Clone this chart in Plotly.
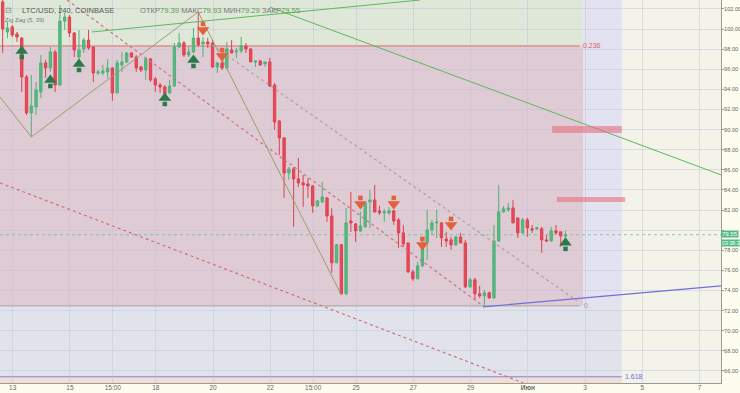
import plotly.graph_objects as go

# ---------------- data ----------------
opens = [102.70, 99.71, 100.21, 99.51, 99.11, 95.24, 91.66, 92.25, 93.74, 96.63,
         96.13, 97.72, 94.44, 100.80, 101.20, 99.61, 97.22, 98.02, 98.91, 98.22,
         95.63, 95.63, 95.73, 96.13, 93.65, 96.43, 96.73, 97.62, 97.22, 96.23,
         95.93, 97.03, 95.04, 94.44, 94.24, 93.65, 94.34, 98.22, 98.62, 97.42,
         97.72, 99.11, 98.52, 98.72, 98.62, 96.23, 96.63, 96.13, 97.92, 97.72,
         97.82, 98.32, 98.02, 96.73, 96.83, 96.53, 96.73, 94.44, 90.86, 89.17,
         85.69, 86.09, 85.10, 84.70, 84.60, 84.40, 82.41, 82.81, 83.21, 81.42,
         76.75, 78.54, 73.67, 80.92, 80.62, 79.93, 80.33, 82.81, 83.01, 81.92,
         81.72, 81.72, 81.92, 81.02, 79.73, 78.73, 75.85, 75.16, 76.45, 78.83,
         80.03, 80.72, 80.72, 79.13, 79.03, 78.54, 79.33, 78.73, 74.36, 75.06,
         73.67, 73.47, 73.77, 73.27, 78.93, 81.82, 82.02, 82.21, 81.22, 79.73,
         81.02, 80.13, 80.13, 80.13, 79.03, 78.93, 79.93, 79.83, 79.39]
highs = [103.10, 100.70, 100.40, 99.71, 99.21, 95.43, 95.43, 94.74, 97.42, 96.93,
         98.22, 97.92, 102.39, 101.60, 101.40, 99.71, 99.91, 99.11, 99.91, 98.22,
         95.93, 96.43, 97.03, 96.23, 96.93, 97.72, 97.72, 97.72, 97.42, 96.33,
         97.22, 97.12, 95.24, 94.64, 94.44, 94.94, 98.62, 99.61, 98.81, 98.22,
         100.11, 101.70, 99.21, 99.11, 98.91, 96.73, 97.72, 98.72, 98.91, 98.12,
         99.21, 98.62, 98.12, 96.83, 96.93, 96.73, 97.12, 94.64, 90.96, 89.27,
         86.29, 86.29, 87.18, 85.49, 85.20, 84.50, 83.01, 84.80, 83.31, 82.21,
         78.64, 78.64, 82.21, 83.81, 80.72, 81.82, 82.81, 84.00, 84.50, 82.41,
         82.12, 82.31, 82.02, 81.22, 80.52, 78.73, 76.05, 76.85, 79.13, 82.02,
         81.02, 82.02, 80.82, 79.83, 79.33, 79.43, 79.73, 79.03, 75.26, 75.26,
         74.46, 74.06, 73.87, 80.52, 84.50, 82.41, 82.71, 83.01, 81.22, 81.22,
         81.22, 80.52, 80.33, 80.33, 79.53, 80.33, 80.52, 79.83, 79.93]
lows = [97.62, 99.11, 99.21, 98.72, 93.74, 91.46, 89.27, 91.46, 93.15, 95.14,
        95.73, 93.74, 94.34, 99.91, 99.21, 97.22, 96.43, 97.62, 97.92, 94.74,
        95.43, 95.43, 95.14, 92.85, 93.65, 95.73, 96.63, 97.12, 95.73, 95.73,
        94.94, 94.74, 93.74, 93.65, 93.45, 93.55, 94.24, 98.12, 97.22, 97.22,
        97.62, 98.22, 97.22, 98.12, 96.13, 95.63, 95.93, 96.03, 97.62, 97.12,
        97.62, 97.62, 96.73, 96.23, 96.33, 96.23, 94.24, 89.97, 87.48, 83.21,
        85.00, 80.33, 84.30, 82.31, 83.21, 81.72, 82.31, 82.71, 80.82, 75.75,
        76.75, 73.57, 73.57, 79.83, 78.83, 79.83, 80.23, 80.23, 81.72, 81.52,
        80.82, 81.52, 80.52, 78.24, 78.34, 75.75, 74.96, 75.16, 76.35, 77.05,
        79.53, 79.23, 78.34, 78.34, 78.04, 78.44, 78.73, 74.26, 74.26, 73.07,
        73.27, 72.37, 73.17, 73.17, 78.83, 81.72, 81.82, 80.72, 79.23, 79.73,
        79.33, 79.73, 80.03, 77.74, 78.83, 78.83, 79.53, 78.34, 79.29]
closes = [100.01, 100.11, 99.41, 99.21, 95.24, 91.66, 92.35, 93.94, 96.63, 96.13,
          97.72, 94.44, 100.80, 101.20, 99.61, 97.92, 97.92, 98.91, 98.12, 95.63,
          95.73, 95.83, 96.13, 93.65, 96.63, 96.73, 97.62, 97.22, 96.13, 95.93,
          97.03, 94.94, 94.44, 94.24, 93.55, 94.34, 98.22, 98.62, 97.42, 97.72,
          99.11, 98.42, 98.72, 98.52, 96.23, 96.63, 96.13, 98.02, 97.62, 97.82,
          98.32, 98.02, 96.73, 96.83, 96.43, 96.73, 94.34, 90.76, 89.17, 85.69,
          86.09, 85.10, 84.70, 84.50, 84.40, 82.41, 82.91, 83.31, 81.42, 76.75,
          78.54, 73.67, 80.72, 80.72, 79.93, 80.42, 82.71, 83.01, 81.82, 81.72,
          81.82, 81.92, 80.92, 79.73, 78.64, 75.85, 75.16, 76.45, 78.73, 80.03,
          80.72, 80.82, 79.23, 78.93, 78.54, 79.33, 78.73, 74.36, 75.06, 73.67,
          73.47, 73.77, 73.27, 78.93, 81.82, 82.12, 82.21, 80.72, 79.73, 81.02,
          80.23, 80.03, 80.23, 79.03, 78.93, 79.93, 79.73, 79.43, 79.55]
candle_x = list(range(len(opens)))

tick_vals = [2.1, 14.1, 23.1, 32.1, 44.1, 56.1, 65.1, 74.1, 86.1, 98.1, 110.1, 122.1, 134.1, 146.1]
tick_text = ["13", "15", "15:00", "18", "20", "22", "15:00", "25", "27", "29", "<b>Июн</b>", "3", "5", "7"]

price_tick_vals = [66, 68, 70, 72, 74, 76, 78, 80, 82, 84, 86, 88, 90, 92, 94, 96, 98, 100, 102]
# 80.00 is hidden behind the current-price tag in the original
price_tick_text = ["66.00", "68.00", "70.00", "72.00", "74.00", "76.00", "78.00", "", "82.00",
                   "84.00", "86.00", "88.00", "90.00", "92.00", "94.00", "96.00", "98.00",
                   "100.00", "102.00"]

up_arrow_x = [4, 10, 16, 34, 40, 118]
up_arrow_y = [97.62, 94.74, 96.33, 92.95, 96.73, 78.54]
down_arrow_x = [42, 46, 75, 82, 94, 88]
down_arrow_y = [100.11, 97.52, 82.81, 82.81, 80.72, 78.73]

zigzag_x = [-0.56, 6, 41, 71]
zigzag_y = [93.25, 89.27, 101.70, 73.57]
green_up_line = ([18.7, 87.5], [99.71, 102.89])
green_down_line = ([56.0, 150.6], [102.19, 85.50])
red_dot_1 = ([13.5, 100.7], [102.89, 72.47])
red_dot_2 = ([-0.56, 109.1], [84.70, 64.82])
gray_dot = ([43.9, 120.4], [98.42, 72.97])
purple_line = ([100.7, 150.6], [72.37, 74.46])

fib_0236 = 98.32
fib_0 = 72.47
fib_1618 = 65.42
last_price = 79.55

X0, X1 = -0.56, 150.6
Y0, Y1 = 64.8, 102.89
fib_end = 121.0
zone_end = 121.7
band_end = 129.8

fig = go.Figure()

shapes = [
    dict(type="rect", x0=X0, x1=zone_end, y0=fib_0236, y1=Y1 + 1, fillcolor="#dfe8d8"),
    dict(type="rect", x0=X0, x1=zone_end, y0=fib_0, y1=fib_0236, fillcolor="#dfcbd3"),
    dict(type="rect", x0=zone_end, x1=band_end, y0=fib_0, y1=Y1 + 1, fillcolor="#e3e2f0"),
    dict(type="rect", x0=X0, x1=band_end, y0=fib_1618, y1=fib_0, fillcolor="#e1e3eb"),
    dict(type="rect", x0=X0, x1=band_end, y0=Y0 - 1, y1=fib_1618, fillcolor="#f0ddd3"),
]
for s in shapes:
    s.update(xref="x", yref="y", layer="below", line=dict(width=0))
for bx0, bx1, by0, by1 in [(115.2, 129.8, 89.67, 90.36), (116.2, 130.5, 82.81, 83.31)]:
    shapes.append(dict(type="rect", xref="x", yref="y", x0=bx0, x1=bx1, y0=by0, y1=by1,
                       fillcolor="rgba(232,110,125,0.6)", line=dict(width=0), layer="above"))
shapes.append(dict(type="line", xref="x", yref="y", x0=X0, x1=fib_end, y0=fib_0236, y1=fib_0236,
                   line=dict(color="#e06a6a", width=1), layer="below"))
shapes.append(dict(type="line", xref="x", yref="y", x0=X0, x1=fib_end, y0=fib_0, y1=fib_0,
                   line=dict(color="#a8a0a0", width=1), layer="below"))
shapes.append(dict(type="line", xref="x", yref="y", x0=X0, x1=band_end, y0=fib_1618, y1=fib_1618,
                   line=dict(color="#8080e8", width=1), layer="below"))
shapes.append(dict(type="line", xref="x", yref="y", x0=X0, x1=X1, y0=last_price, y1=last_price,
                   line=dict(color="rgba(90,190,130,0.7)", width=1, dash="dot"), layer="below"))

fig.update_layout(shapes=shapes)

def add_line(xs, ys, color, width=1, dash=None):
    fig.add_trace(go.Scatter(x=xs, y=ys, mode="lines", hoverinfo="skip", showlegend=False,
                             line=dict(color=color, width=width, dash=dash)))

add_line(*red_dot_2, "#d07080", 1.2, "dot")
add_line(*red_dot_1, "#d07080", 1.2, "dot")
add_line(*gray_dot, "#b0a0a0", 1.2, "dot")
add_line(zigzag_x, zigzag_y, "#a09a70", 1)
add_line(*green_up_line, "#5cb85c", 1)
add_line(*green_down_line, "#5cb85c", 1)
add_line(*purple_line, "#6f6fd8", 1.2)

fig.add_trace(go.Candlestick(
    x=candle_x, open=opens, high=highs, low=lows, close=closes,
    increasing=dict(line=dict(color="#4fb27a", width=1), fillcolor="#55b983"),
    decreasing=dict(line=dict(color="#e0404f", width=1), fillcolor="#e84a5b"),
    whiskerwidth=0, showlegend=False, hoverinfo="skip"))

def add_arrows(xs, ys, color, up=True):
    sgn = 1 if up else -1
    fig.add_trace(go.Scatter(x=xs, y=[v + sgn * 0.2 for v in ys], mode="markers", showlegend=False,
                             hoverinfo="skip",
                             marker=dict(symbol="triangle-up" if up else "triangle-down", size=11,
                                         color=color, line=dict(width=0))))
    fig.add_trace(go.Scatter(x=xs, y=[v - sgn * 0.4 for v in ys], mode="markers", showlegend=False,
                             hoverinfo="skip",
                             marker=dict(symbol="square", size=4.5, color=color, line=dict(width=0))))

add_arrows(up_arrow_x, up_arrow_y, "#2a7a4c", up=True)
add_arrows(down_arrow_x, down_arrow_y, "#e2603c", up=False)

W, H = 740, 393
PW, PH = 721, 383

def pa(px, py, text, color, size, xanchor="left"):
    fig.add_annotation(xref="paper", yref="paper", x=px / PW, y=1 - py / PH, text=text,
                       showarrow=False, xanchor=xanchor, yanchor="middle",
                       font=dict(color=color, size=size, family="Liberation Sans, Arial"),
                       borderpad=0)

pa(21, 10, "LTC/USD, 240, COINBASE", "#555555", 7.6)
pa(139, 10, "ОТКР<span style='color:#5aa050'>79.39</span> МАКС<span style='color:#5aa050'>79.93</span> "
            "МИН<span style='color:#5aa050'>79.29</span> ЗАКР<span style='color:#5aa050'>79.55</span>",
   "#777777", 7.6)
pa(4, 20, "Zig Zag (5, 39)", "#777777", 6)
pa(4, 10, "⊟", "#888888", 8)

fig.add_annotation(x=123.5, y=fib_0236, text="0.236", showarrow=False, xanchor="center",
                   font=dict(color="#e06060", size=7, family="Liberation Sans, Arial"))
fig.add_annotation(x=122.3, y=fib_0, text="0", showarrow=False, xanchor="center",
                   font=dict(color="#999999", size=7, family="Liberation Sans, Arial"))
fig.add_annotation(x=132.3, y=fib_1618, text="1.618", showarrow=False, xanchor="center",
                   font=dict(color="#6a6ae0", size=7, family="Liberation Sans, Arial"))

fig.add_annotation(xref="paper", yref="y", x=1.0, y=last_price + 0.1, text="79.55", showarrow=False,
                   xanchor="left", yanchor="middle", bgcolor="#53b987", borderpad=0,
                   font=dict(color="white", size=6, family="Liberation Sans, Arial"))
fig.add_annotation(xref="paper", yref="y", x=1.0, y=last_price - 0.85, text="03:38:3", showarrow=False,
                   xanchor="left", yanchor="middle", bgcolor="#53b987", borderpad=0,
                   font=dict(color="white", size=5.2, family="Liberation Sans, Arial"))

fig.update_layout(
    width=W, height=H,
    margin=dict(l=0, r=W - PW, t=0, b=H - PH, autoexpand=False),
    paper_bgcolor="#fcfcef",
    plot_bgcolor="#f3f3ea",
    font=dict(family="Liberation Sans, Arial", color="#666666", size=7),
    xaxis=dict(range=[X0, X1], tickvals=tick_vals, ticktext=tick_text, showgrid=True,
               gridcolor="rgba(190,190,225,0.45)", gridwidth=1, zeroline=False, automargin=False,
               rangeslider=dict(visible=False), showline=True, linecolor="#9a9a9a",
               ticks="", ticklabelstandoff=-2, tickfont=dict(size=6.5)),
    yaxis=dict(range=[Y0, Y1], side="right", tickvals=price_tick_vals, ticktext=price_tick_text,
               showgrid=True, gridcolor="rgba(190,190,225,0.45)", gridwidth=1, zeroline=False,
               automargin=False, showline=True, linecolor="#9a9a9a", ticks="outside", ticklen=2,
               tickcolor="#9a9a9a", ticklabelstandoff=-1, tickfont=dict(size=5.6)),
)

fig.write_html("out.html")
